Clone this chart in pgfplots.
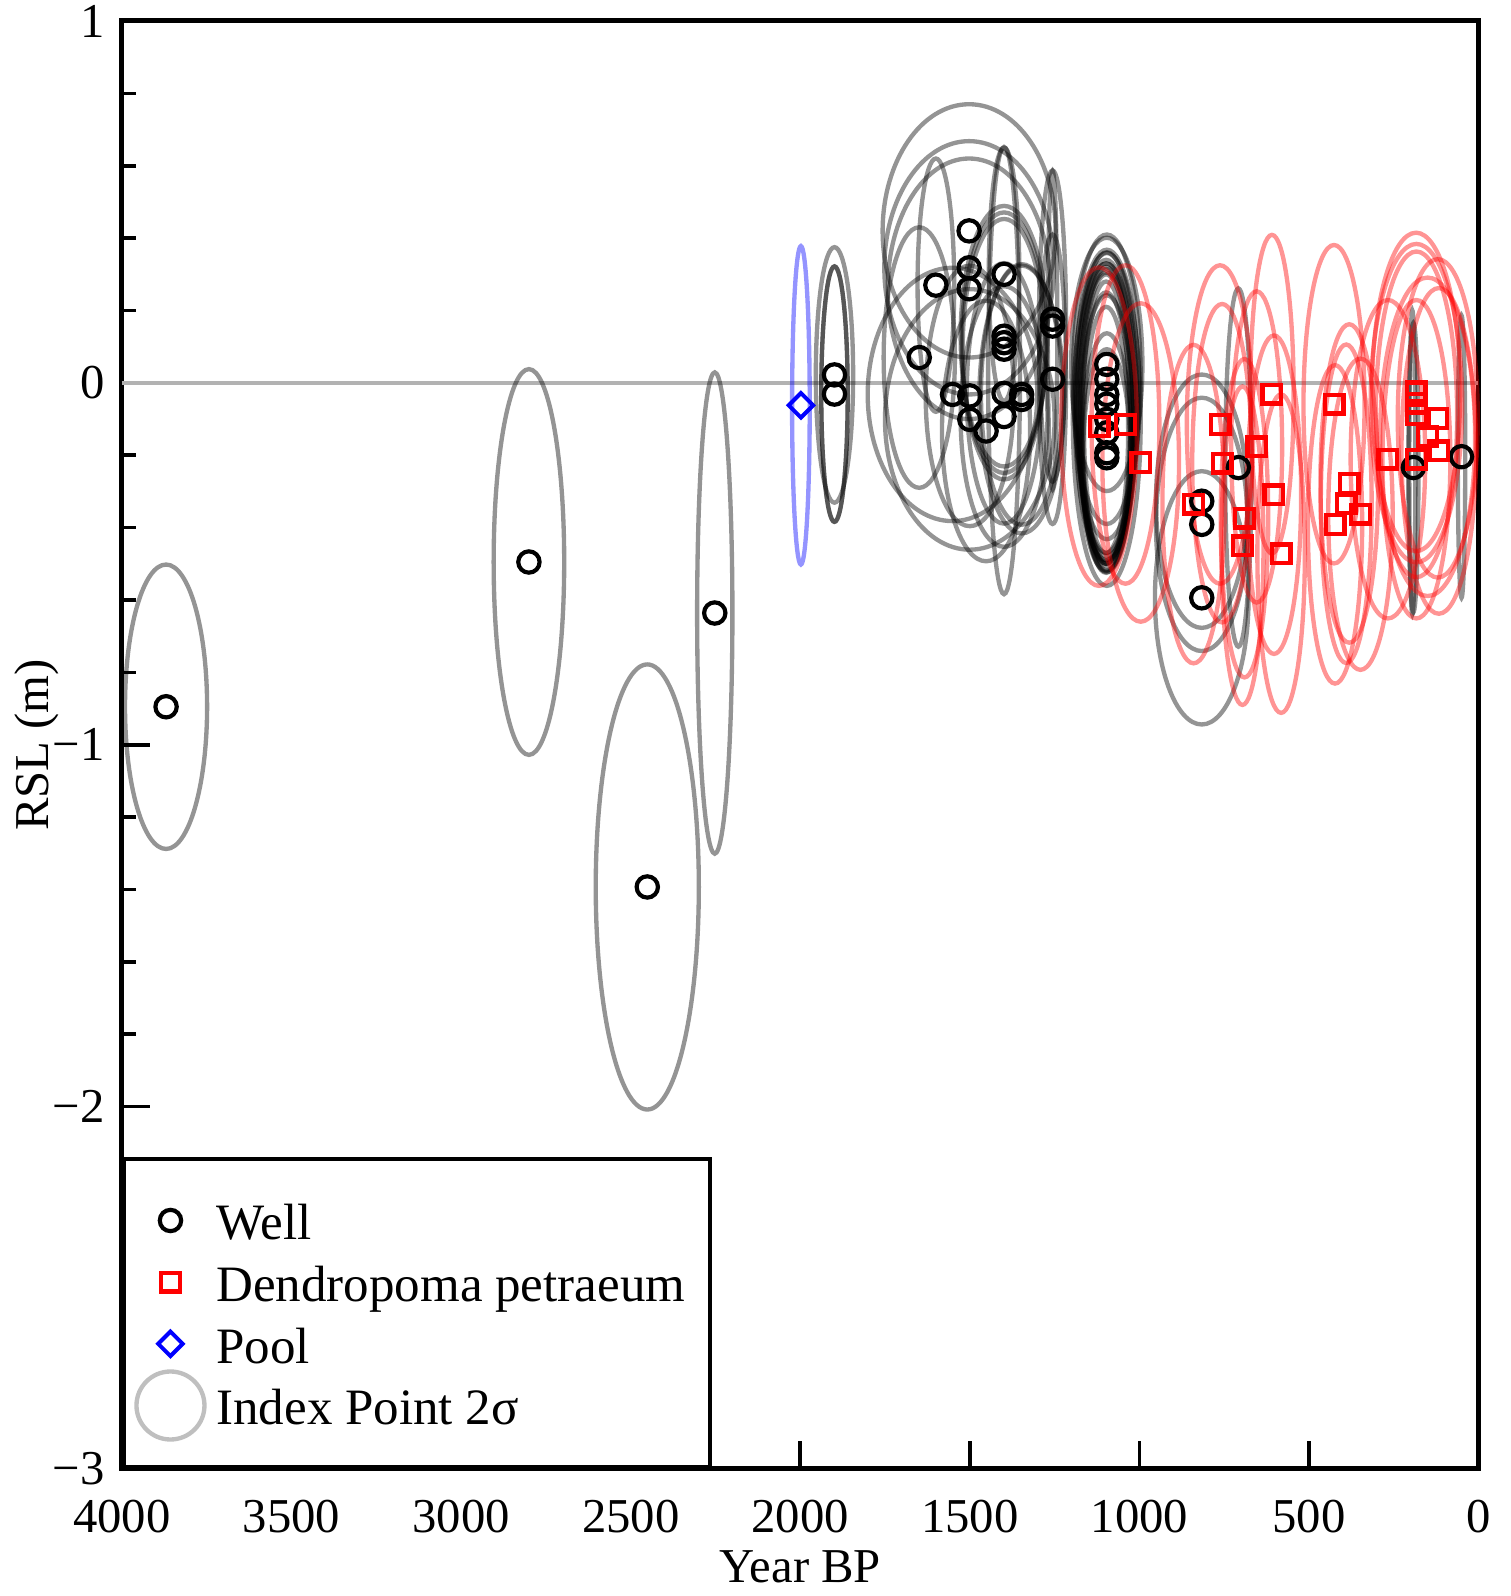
\documentclass[border=0pt]{standalone}
\usepackage{fontspec}
\setmainfont{Liberation Serif}
\usepackage{pgfplots}
\usepackage{pgfplotstable}
\pgfplotsset{compat=1.18}

% ellipse mark: half axes (in pt) come from the data via visualization depends on
\pgfdeclareplotmark{ell}{%
  \pgfpathellipse{\pgfpointorigin}{\pgfpoint{\rxpt pt}{0pt}}{\pgfpoint{0pt}{\rypt pt}}%
  \pgfusepathqstroke}

\pgfplotsset{
  ellplot/.style={scatter, only marks, mark=ell, forget plot,
    visualization depends on={\thisrow{rx}*0.101738 \as \rxpt},
    visualization depends on={\thisrow{ry}*108.5625 \as \rypt},
    scatter/@pre marker code/.code={\pgfscope\pgfsetlinewidth{1.3pt}\pgfsetstrokecolor{#1}\pgfsetstrokeopacity{0.42}},
    scatter/@post marker code/.code={\endpgfscope}},
}

% index points (well): centre year BP, RSL, 2-sigma half widths
\pgfplotstableread{
x y rx ry
3870 -0.895 121 0.393
2800 -0.495 104 0.533
2451 -1.393 152 0.615
2252 -0.636 52 0.665
1899 0.022 55 0.353
1899 -0.031 39 0.353
1899 -0.031 39 0.353
1502 0.420 255 0.35
1502 0.318 250 0.35
1502 0.260 240 0.36
1600 0.270 54 0.35
1399 0.300 45 0.35
1649 0.070 105 0.36
1399 0.129 128 0.36
1399 0.111 125 0.36
1399 0.093 122 0.36
1256 0.146 14 0.44
1256 0.157 40 0.43
1256 0.010 40 0.40
1551 -0.032 250 0.35
1500 -0.036 130 0.36
1500 -0.101 250 0.36
1452 -0.133 130 0.36
1399 0.034 47 0.618
1399 -0.093 128 0.36
1347 -0.032 120 0.36
1347 -0.046 125 0.37
1399 -0.029 110 0.36
1096 0.051 105 0.35
1096 0.010 100 0.40
1096 -0.032 95 0.40
1096 -0.059 90 0.42
1096 -0.101 100 0.46
1096 -0.138 80 0.38
1096 -0.193 75 0.33
1096 -0.207 70 0.30
1098 -0.070 85 0.40
1098 -0.090 80 0.41
1098 -0.100 75 0.40
1098 -0.110 70 0.39
1098 -0.120 72 0.37
1098 -0.090 88 0.43
1098 -0.130 65 0.34
1098 -0.080 92 0.41
1098 -0.105 78 0.42
1098 -0.095 83 0.40
816 -0.327 135 0.35
816 -0.391 135 0.35
816 -0.594 138 0.35
708 -0.234 39 0.495
192 -0.234 15 0.40
195 -0.220 9 0.42
50 -0.204 11 0.39
}\wellell

\pgfplotstableread{
x y
3870 -0.895
2800 -0.495
2451 -1.393
2252 -0.636
1899 0.022
1899 -0.031
1502 0.420
1502 0.318
1502 0.260
1600 0.270
1399 0.300
1649 0.070
1399 0.129
1399 0.111
1399 0.093
1256 0.176
1256 0.157
1256 0.010
1551 -0.032
1500 -0.036
1500 -0.101
1452 -0.133
1399 -0.029
1399 -0.093
1347 -0.032
1347 -0.046
1096 0.051
1096 0.010
1096 -0.032
1096 -0.059
1096 -0.101
1096 -0.138
1096 -0.193
1096 -0.207
816 -0.327
816 -0.391
816 -0.594
708 -0.234
192 -0.234
50 -0.204
}\wellpts

% Dendropoma petraeum index points
\pgfplotstableread{
x y rx ry
1119 -0.121 112 0.44
1041 -0.115 100 0.44
996 -0.220 113 0.44
840 -0.335 92 0.44
762 -0.115 98 0.44
756 -0.222 88 0.44
609 -0.031 64 0.44
654 -0.177 75 0.43
690 -0.374 70 0.44
696 -0.450 62 0.44
603 -0.309 80 0.44
582 -0.472 70 0.44
426 -0.059 90 0.44
381 -0.278 85 0.44
390 -0.334 75 0.44
348 -0.363 95 0.43
423 -0.391 80 0.44
267 -0.211 110 0.44
184 -0.025 130 0.44
183 -0.056 135 0.44
183 -0.087 120 0.45
120 -0.098 118 0.44
150 -0.149 140 0.44
117 -0.188 110 0.45
183 -0.211 100 0.44
}\dendro

\pgfplotstableread{
x y rx ry
1998 -0.062 26 0.44
}\pool

\begin{document}
\begin{tikzpicture}
\path[use as bounding box] (-36.6pt,-38.25pt) rectangle (416.4pt,440.55pt);
\begin{axis}[
  scale only axis, width=406.95pt, height=434.25pt,
  at={(0,0)}, anchor=south west,
  x dir=reverse, xmin=0, xmax=4000, ymin=-3, ymax=1,
  xtick={0,500,1000,1500,2000,2500,3000,3500,4000},
  xticklabels={0,500,1000,1500,2000,2500,3000,3500,4000},
  ytick={-3,-2,-1,0,1}, yticklabels={−3,−2,−1,0,1},
  minor y tick num=4,
  tick align=inside, tick pos=left,
  major tick length=8.3pt, minor tick length=4.3pt,
  every tick/.style={black, line width=1.1pt},
  axis line style={line width=1.5pt},
  ticklabel style={font=\fontsize{14.6}{17}\selectfont},
  xticklabel style={anchor=base, inner sep=0pt, yshift=-19.2pt},
  yticklabel style={anchor=east, inner sep=0pt, xshift=-5pt},
  xlabel={Year BP}, ylabel={RSL (m)},
  every axis x label/.style={at={(axis description cs:0.5,-0.0785)}, anchor=base, font=\fontsize{14.6}{17}\selectfont},
  every axis y label/.style={at={(axis description cs:-0.054,0.5)}, rotate=90, anchor=base, font=\fontsize{14.6}{17}\selectfont},
  legend cell align=left,
  legend style={at={(0,0)}, anchor=south west, draw=black, line width=1.1pt, fill=white,
    inner xsep=7.4pt, inner ysep=11.1pt, row sep=4pt, column sep=7.2pt,
    font=\fontsize{15.3}{18}\selectfont,
    nodes={inner sep=0pt, text height=13pt, text depth=1.5pt}},
]
\addplot[black!30, line width=1pt, forget plot] coordinates {(4000,0) (0,0)};
\addplot[ellplot=black] table {\wellell};
\addplot[ellplot=red] table {\dendro};
\addplot[ellplot=blue] table {\pool};

\addplot[black, only marks, mark=o, mark size=3.2pt, mark options={line width=1.25pt}] table[x=x,y=y] {\wellpts};
\addlegendentry{Well}
\addplot[red, only marks, mark=square, mark size=2.8pt, mark options={line width=1.3pt}] table[x=x,y=y] {\dendro};
\addlegendentry{Dendropoma petraeum}
\addplot[blue, only marks, mark=square, mark size=2.6pt, mark options={rotate=45, line width=1.2pt}] table[x=x,y=y] {\pool};
\addlegendentry{Pool}
\addlegendimage{legend image code/.code={%
  \path[draw=none] (0.3cm-6.6pt,0pt) -- (0.3cm+6.6pt,0pt);
  \draw[overlay, black!25, line width=1.3pt] (0.3cm,0pt) circle (10.2pt);}}
\addlegendentry{Index Point 2σ}
\end{axis}
\end{tikzpicture}
\end{document}
